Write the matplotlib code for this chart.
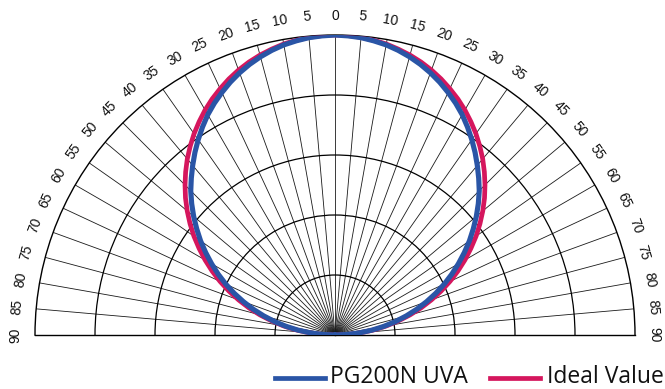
import numpy as np
import matplotlib
matplotlib.use("Agg")
import matplotlib.pyplot as plt
from matplotlib.lines import Line2D

# ---- data (every 2.5 degrees) ----
angles_deg = [-90, -87.5, -85, -82.5, -80, -77.5, -75, -72.5, -70, -67.5, -65, -62.5, -60, -57.5,
              -55, -52.5, -50, -47.5, -45, -42.5, -40, -37.5, -35, -32.5, -30, -27.5, -25, -22.5,
              -20, -17.5, -15, -12.5, -10, -7.5, -5, -2.5,
              0,
              2.5, 5, 7.5, 10, 12.5, 15, 17.5, 20, 22.5, 25, 27.5, 30, 32.5, 35, 37.5, 40, 42.5,
              45, 47.5, 50, 52.5, 55, 57.5, 60, 62.5, 65, 67.5, 70, 72.5, 75, 77.5, 80, 82.5,
              85, 87.5, 90]
pg200n_uva = [0.000, 0.041, 0.082, 0.124, 0.165, 0.206, 0.246, 0.286, 0.325, 0.364, 0.402, 0.439,
              0.475, 0.511, 0.547, 0.581, 0.615, 0.648, 0.680, 0.709, 0.738, 0.767, 0.795, 0.822,
              0.848, 0.871, 0.892, 0.912, 0.930, 0.946, 0.960, 0.972, 0.982, 0.989, 0.995, 0.998,
              1.000,
              0.998, 0.995, 0.989, 0.982, 0.972, 0.960, 0.946, 0.930, 0.912, 0.892, 0.871, 0.848,
              0.822, 0.795, 0.767, 0.738, 0.709, 0.680, 0.648, 0.615, 0.581, 0.547, 0.511, 0.475,
              0.439, 0.402, 0.364, 0.325, 0.286, 0.246, 0.206, 0.165, 0.124, 0.082, 0.041, 0.000]
ideal_value = [0.000, 0.044, 0.087, 0.131, 0.174, 0.216, 0.259, 0.301, 0.342, 0.383, 0.423, 0.462,
               0.500, 0.537, 0.574, 0.609, 0.643, 0.676, 0.707, 0.737, 0.766, 0.793, 0.819, 0.843,
               0.866, 0.887, 0.906, 0.924, 0.940, 0.954, 0.966, 0.976, 0.985, 0.991, 0.996, 0.999,
               1.000,
               0.999, 0.996, 0.991, 0.985, 0.976, 0.966, 0.954, 0.940, 0.924, 0.906, 0.887, 0.866,
               0.843, 0.819, 0.793, 0.766, 0.737, 0.707, 0.676, 0.643, 0.609, 0.574, 0.537, 0.500,
               0.462, 0.423, 0.383, 0.342, 0.301, 0.259, 0.216, 0.174, 0.131, 0.087, 0.044, 0.000]
series_names = ["PG200N UVA", "Ideal Value"]
series_colors = ["#2a55a6", "#d5165d"]
tick_angles = list(range(-90, 95, 5))
tick_labels = [str(abs(a)) for a in tick_angles]
radial_grid = [0.2, 0.4, 0.6, 0.8]

W, H = 665, 389
fig = plt.figure(figsize=(W / 100, H / 100), dpi=100)
cx, cy, R = 335, 335, 300
# the half-disc wedge sits in the middle half of a square axes box
ax = fig.add_axes([(cx - R) / W, (H - cy - R / 2) / H, 2 * R / W, 2 * R / H], projection="polar")
ax.set_theta_zero_location("N")
ax.set_theta_direction(-1)
ax.set_thetamin(-90)
ax.set_thetamax(90)
ax.set_ylim(0, 1)
ax.set_xticks(np.deg2rad(tick_angles))
ax.set_xticklabels([])
ax.set_yticks(radial_grid)
ax.set_yticklabels([])
ax.tick_params(length=0)
ax.xaxis.grid(True, color="#1a1a1a", linewidth=0.6)
ax.yaxis.grid(True, color="black", linewidth=0.9)
for s in ax.spines.values():
    s.set_color("black")
    s.set_linewidth(1.0)

th = np.deg2rad(angles_deg)
ax.plot(th, ideal_value, color=series_colors[1], linewidth=3.4, zorder=3,
        solid_capstyle="round", solid_joinstyle="round")
ax.plot(th, pg200n_uva, color=series_colors[0], linewidth=3.7, zorder=4,
        solid_capstyle="round", solid_joinstyle="round")

for a, lab in zip(tick_angles, tick_labels):
    ax.text(np.deg2rad(a), 1.065, lab, rotation=-a, rotation_mode="anchor",
            ha="center", va="center", fontsize=10, family="Liberation Sans", color="#111111")

# legend (manual)
leg_y = (H - 378) / H
txt_y = (H - 383) / H
items = [(275, 325, 330), (490, 540, 547)]
for (x0, x1, xt), name, col in zip(items, series_names, series_colors):
    fig.add_artist(Line2D([x0 / W, x1 / W], [leg_y, leg_y], color=col, linewidth=3.4,
                          transform=fig.transFigure))
    fig.text(xt / W, txt_y, name, fontsize=16.5, family="Open Sans", color="#111111",
             ha="left", va="baseline")

fig.savefig("out.png", dpi=100)
